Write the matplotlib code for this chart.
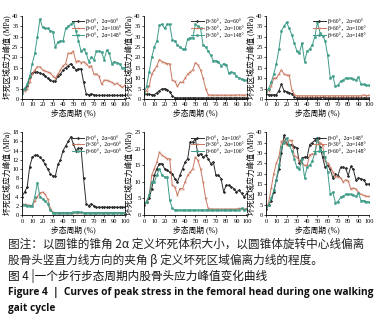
import matplotlib
matplotlib.use("Agg")
import matplotlib.pyplot as plt
import numpy as np

plt.rcParams['font.family'] = ['Liberation Serif', 'Noto Sans CJK SC', 'DejaVu Sans']

# gait cycle (%)
x = np.arange(0, 100.1, 2.5)

# beta = 0
b0_60 = [4, 5, 6, 10.5, 12.5, 13, 13, 12.5, 12, 11, 10, 9, 8.5, 8.5, 11, 12, 14, 15, 16, 17, 15.5,
         14, 14.5, 14.5, 8, 2.5, 2, 2.5, 2, 1.7, 1.7, 1.7, 1.7, 1.7, 1.7, 1.7, 1.7, 1.7, 1.7, 1.7, 1.7]
b0_106 = [3, 4, 5, 8, 12, 14, 15.5, 15.5, 14, 13.5, 13, 12.5, 11, 10, 12, 14, 16, 17, 22, 22, 23,
          18, 18.5, 17.5, 18, 17, 15.5, 16, 12, 12, 11, 7, 9, 9, 8.5, 8, 7, 7.5, 6.5, 5.5, 6.5]
b0_148 = [3, 5, 7, 11, 17, 22, 30, 38.5, 34.5, 34, 34, 33, 32.5, 25, 27.5, 28, 28, 34, 35, 36, 37,
          33, 28, 23, 24, 22, 18, 20, 19, 23, 23, 22.5, 19, 23.5, 22, 17, 18, 17.5, 17, 15, 15]
# beta = 30
b30_60 = [2.3, 2.3, 2.2, 2.1, 2, 3, 4, 4.8, 5, 4.5, 3.5, 1.5, 0.6, 0.5, 0.5, 0.5, 0.5, 0.5, 0.5, 0.5, 0.5,
          0.5, 0.5, 0.5, 0.5, 0.5, 0.5, 0.5, 0.5, 0.5, 0.5, 0.5, 0.5, 0.5, 0.5, 0.5, 0.5, 0.5, 0.5, 0.5, 0.5]
b30_106 = [3, 4, 6, 12, 14, 16, 19, 18, 17.5, 17, 17, 9, 8.5, 6, 8, 8, 10, 12, 13, 14, 17.5,
           16.5, 14, 10, 5, 2, 1.8, 1.8, 1.8, 1.8, 1.8, 1.8, 1.8, 1.8, 1.8, 1.8, 1.8, 2, 1.8, 1.8, 2]
b30_148 = [3, 6, 13, 20, 25, 28, 35.5, 36, 34, 36, 36, 28.5, 28, 26, 25, 24, 24, 29, 29.5, 29.5, 36,
           35, 34, 26, 25, 23, 21, 18.5, 18.5, 18, 16, 17, 16.5, 12.5, 13, 12.5, 11, 10, 9.5, 9, 9]
# beta = 60
b60_60 = [2.2, 2.1, 2, 2, 2, 4, 7, 4, 3.5, 3, 2.5, 1, 0.5, 0.5, 0.5, 0.5, 0.5, 0.5, 0.5, 0.5, 0.6,
          0.6, 0.7, 0.6, 0.5, 0.5, 0.5, 0.5, 0.5, 0.5, 0.5, 0.5, 0.5, 0.5, 0.5, 0.5, 0.5, 0.5, 0.5, 0.5, 0.5]
b60_106 = [3.5, 4, 6, 10, 10, 12, 14, 12, 11.5, 11.5, 4.5, 2, 1.5, 1.5, 1.5, 1.5, 1.5, 1.5, 1.5, 1.5, 1.5,
           1.5, 1.5, 1.5, 1.5, 1.5, 1.5, 1.5, 1.5, 1.5, 1.5, 1.5, 1.5, 1.5, 1.5, 1.5, 1.5, 1.5, 2, 1.5, 1.8]
b60_148 = [4, 5, 8, 12, 17, 24, 33, 35, 37, 34, 31, 27, 23, 22, 27, 18, 23, 24, 26, 30, 37,
           32, 30.5, 28, 21, 10, 11, 6, 6.5, 8.5, 9, 10, 10, 10, 9.5, 9, 10.5, 7, 7, 6.5, 6.5]

colors = ['#2e2e2e', '#c9775f', '#3f9c89']
markers = ['D', 'x', 's']

panels = [
    ([b0_60, b0_106, b0_148], ['β=0°，2α=60°', 'β=0°，2α=106°', 'β=0°，2α=148°'], 40, 5),
    ([b30_60, b30_106, b30_148], ['β=30°，2α=60°', 'β=30°，2α=106°', 'β=30°，2α=148°'], 40, 5),
    ([b60_60, b60_106, b60_148], ['β=60°，2α=60°', 'β=60°，2α=106°', 'β=60°，2α=148°'], 40, 5),
    ([b0_60, b30_60, b60_60], ['β=0°，2α=60°', 'β=30°，2α=60°', 'β=60°，2α=60°'], 18, 2),
    ([b0_106, b30_106, b60_106], ['β=0°，2α=106°', 'β=30°，2α=106°', 'β=60°，2α=106°'], 25, 5),
    ([b0_148, b30_148, b60_148], ['β=0°，2α=148°', 'β=30°，2α=148°', 'β=60°，2α=148°'], 40, 5),
]

fig = plt.figure(figsize=(3.79, 3.20), dpi=100)
lefts = [0.058, 0.380, 0.702]
bottoms = [0.691, 0.328]

for i, (series, labels, ymax, ystep) in enumerate(panels):
    ax = fig.add_axes([lefts[i % 3], bottoms[i // 3], 0.271, 0.259])
    for s, lab, c, m in zip(series, labels, colors, markers):
        ax.plot(x, s, color=c, lw=0.7, marker=m, ms=1.2, mew=0.5, label=lab)
    ax.set_xlim(0, 100)
    ax.set_ylim(0, ymax)
    ax.set_xticks(range(0, 101, 10))
    ax.set_yticks(np.arange(0, ymax + 0.1, ystep))
    ax.tick_params(labelsize=4.6, length=1.5, width=0.5, pad=1)
    for sp in ['top', 'right']:
        ax.spines[sp].set_visible(False)
    for sp in ['left', 'bottom']:
        ax.spines[sp].set_linewidth(0.6)
    ax.set_xlabel('步态周期 (%)', fontsize=5.6, labelpad=1)
    ax.set_ylabel('坏死区域应力峰值 (MPa)', fontsize=5.6, labelpad=1)
    ax.legend(loc='upper right', fontsize=4, frameon=False, handlelength=2.2,
              borderaxespad=0.1, labelspacing=0.2, handletextpad=0.3)

cap = ['Noto Sans CJK SC', 'DejaVu Sans']
fig.text(0.022, 1 - 244 / 320, '图注：以圆锥的锥角 2α 定义坏死体积大小，以圆锥体旋转中心线偏离',
         fontsize=8.4, va='center', family=cap, color='#222222')
fig.text(0.022, 1 - 260 / 320, '股骨头竖直力线方向的夹角 β 定义坏死区域偏离力线的程度。',
         fontsize=8.4, va='center', family=cap, color='#222222')
fig.text(0.022, 1 - 276 / 320, '图 4 |一个步行步态周期内股骨头应力峰值变化曲线',
         fontsize=8.4, va='center', family=cap, color='#111111', weight='medium')
fig.text(0.022, 1 - 292 / 320, 'Figure 4  |  Curves of peak stress in the femoral head during one walking',
         fontsize=7.3, va='center', family=['Open Sans', 'DejaVu Sans'], weight='bold', color='#111111')
fig.text(0.022, 1 - 308 / 320, 'gait cycle',
         fontsize=7.3, va='center', family=['Open Sans', 'DejaVu Sans'], weight='bold', color='#111111')

fig.savefig('out.png', dpi=100)
